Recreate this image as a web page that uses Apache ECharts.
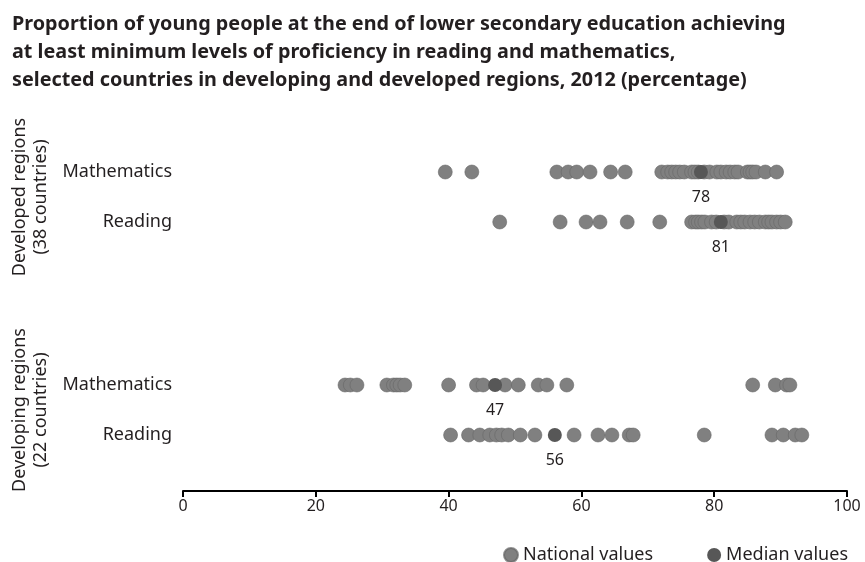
<!DOCTYPE html>
<html lang="en">
<head>
    <meta charset="UTF-8">
    <title>Minimum proficiency, reading and mathematics, 2012</title>
    <script src="https://cdn.jsdelivr.net/npm/echarts@6/dist/echarts.min.js"></script>
    <style>
        html, body { margin: 0; padding: 0; background: #fff; }
        #chart { width: 865px; height: 562px; }
    </style>
</head>
<body>
<div id="chart"></div>
<script>
    // row labels inside each region block
    let subjects = ['Mathematics', 'Reading'];
    let regionNames = ['Developed regions\n(38 countries)', 'Developing regions\n(22 countries)'];
    let xTicks = [0, 20, 40, 60, 80, 100];

    // national values (percentage)
    let developedMath = [39.5, 43.5, 56.3, 58.0, 59.3, 61.3, 64.4, 66.6, 72.1, 73.0, 73.6, 74.2, 74.8, 75.5,
        76.6, 77.1, 77.6, 78.5, 79.3, 80.4, 81.0, 81.8, 82.4, 83.1, 83.6, 85.0, 85.4, 85.8, 86.3, 87.7, 89.4];
    let developedReading = [47.7, 56.8, 60.7, 62.8, 66.9, 71.8, 76.6, 77.2, 77.6, 78.1, 78.6, 79.6, 80.3,
        81.5, 82.2, 83.4, 84.0, 84.6, 85.4, 86.1, 86.8, 87.7, 88.2, 88.7, 89.4, 90.0, 90.7];
    let developingMath = [24.4, 25.2, 26.2, 30.7, 31.7, 32.2, 32.7, 33.4, 40.0, 44.2, 45.2, 48.5, 50.5,
        53.5, 54.8, 57.8, 85.8, 89.2, 90.9, 91.4];
    let developingReading = [40.3, 43.0, 44.7, 46.2, 47.2, 48.0, 49.0, 50.8, 53.0, 58.9, 62.5, 64.6, 67.2,
        67.8, 78.5, 88.7, 90.4, 92.2, 93.2];

    // medians: [mathematics, reading]
    let developedMedian = [78, 81];
    let developingMedian = [47, 56];

    let FONT = 'Noto Sans';
    let textColor = '#231f20';
    let nationalColor = '#808080';
    let medianColor = '#575757';

    function rowPoints(values, row) {
        return values.map(function (v) { return [v, row]; });
    }

    function nationalSeries(idx, math, reading) {
        return {
            name: 'National values',
            type: 'scatter',
            xAxisIndex: idx,
            yAxisIndex: idx,
            symbolSize: 14,
            itemStyle: {color: nationalColor, opacity: 1, borderColor: 'rgba(100,100,100,0.7)', borderWidth: 0.8},
            data: rowPoints(math, 0).concat(rowPoints(reading, 1)),
            z: 2
        };
    }

    function medianSeries(idx, med) {
        return {
            name: 'Median values',
            type: 'scatter',
            xAxisIndex: idx,
            yAxisIndex: idx,
            symbolSize: 14,
            itemStyle: {color: medianColor, opacity: 1},
            label: {
                show: true, position: 'bottom', distance: 10,
                formatter: function (p) { return p.value[0]; },
                fontFamily: FONT, fontSize: 16, color: textColor
            },
            data: [[med[0], 0], [med[1], 1]],
            z: 3
        };
    }

    function yAxisFor(idx) {
        return {
            type: 'category',
            gridIndex: idx,
            data: subjects,
            inverse: true,
            axisLine: {show: false},
            axisTick: {show: false},
            axisLabel: {fontFamily: FONT, fontSize: 18, color: textColor, margin: 11},
            name: regionNames[idx],
            nameLocation: 'middle',
            nameRotate: 90,
            nameGap: 132,
            nameTextStyle: {fontFamily: FONT, fontSize: 18, color: textColor, lineHeight: 21}
        };
    }

    let chart = echarts.init(document.getElementById('chart'));
    let option = {
        animation: false,
        title: {
            text: 'Proportion of young people at the end of lower secondary education achieving\n' +
                'at least minimum levels of proficiency in reading and mathematics,\n' +
                'selected countries in developing and developed regions, 2012 (percentage)',
            left: 7,
            top: 5,
            textStyle: {fontFamily: FONT, fontSize: 19.8, fontWeight: 'bold', color: textColor, lineHeight: 28}
        },
        legend: {
            data: [{name: 'National values', itemStyle: {color: nationalColor}},
                {name: 'Median values', itemStyle: {color: medianColor}}],
            right: 12,
            top: 541,
            icon: 'circle',
            itemWidth: 14,
            itemHeight: 14,
            itemGap: 54,
            textStyle: {fontFamily: FONT, fontSize: 18, color: textColor}
        },
        grid: [
            {left: 183, right: 18, top: 147, height: 100, outerBoundsMode: 'none'},
            {left: 183, right: 18, top: 360, height: 100, outerBoundsMode: 'none'}
        ],
        xAxis: [
            {type: 'value', gridIndex: 0, min: 0, max: 100, interval: 20, show: false},
            {
                type: 'value', gridIndex: 1, min: 0, max: 100, interval: 20,
                offset: 31,
                axisLine: {show: true, lineStyle: {color: '#000', width: 2}},
                axisTick: {show: true, length: 6, lineStyle: {color: '#000', width: 2}},
                splitLine: {show: false},
                axisLabel: {
                    fontFamily: FONT, fontSize: 16, color: textColor, margin: 7,
                    formatter: function (v) { return xTicks.indexOf(v) >= 0 ? String(v) : ''; }
                }
            }
        ],
        yAxis: [yAxisFor(0), yAxisFor(1)],
        series: [
            nationalSeries(0, developedMath, developedReading),
            medianSeries(0, developedMedian),
            nationalSeries(1, developingMath, developingReading),
            medianSeries(1, developingMedian)
        ]
    };
    chart.setOption(option);
</script>
</body>
</html>
